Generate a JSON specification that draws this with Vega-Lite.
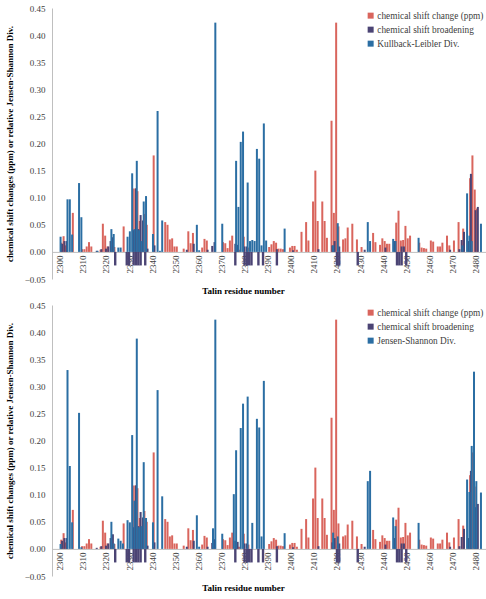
{
  "$schema": "https://vega.github.io/schema/vega-lite/v6.json",
  "padding": {"left": 5, "top": 4, "right": 4, "bottom": 2},
  "datasets": {
    "talin": [
      {"r": 2300, "k": 0.028, "j": 0.009},
      {"r": 2301, "c": 0.017, "b": 0.015},
      {"r": 2302, "c": 0.029, "b": 0.02},
      {"r": 2303, "c": 0.012, "b": 0.02, "k": 0.097, "j": 0.33},
      {"r": 2304, "k": 0.097, "j": 0.153},
      {"r": 2305, "k": 0.032, "j": 0.049},
      {"r": 2306, "c": 0.072},
      {"r": 2308, "k": 0.127, "j": 0.251},
      {"r": 2309, "k": 0.064, "j": 0.003},
      {"r": 2310, "c": 0.005},
      {"r": 2311, "c": 0.005},
      {"r": 2312, "c": 0.01},
      {"r": 2313, "c": 0.018},
      {"r": 2314, "c": 0.01},
      {"r": 2316, "b": 0.002, "k": 0.002},
      {"r": 2318, "c": 0.004, "b": 0.005},
      {"r": 2319, "c": 0.052},
      {"r": 2320, "c": 0.03, "b": 0.006},
      {"r": 2321, "c": 0.01, "b": 0.01},
      {"r": 2322, "b": 0.02, "k": 0.042, "j": 0.05},
      {"r": 2323, "b": 0.027, "k": 0.033, "j": 0.01},
      {"r": 2324, "c": 0.009, "n": -0.025},
      {"r": 2325, "k": 0.008, "j": 0.019},
      {"r": 2326, "k": 0.008, "j": 0.015},
      {"r": 2327, "j": 0.01},
      {"r": 2328, "c": 0.047},
      {"r": 2329, "k": 0.028, "j": 0.053, "n": -0.025},
      {"r": 2330, "k": 0.038, "j": 0.049, "n": -0.025},
      {"r": 2331, "k": 0.145, "j": 0.21},
      {"r": 2332, "c": 0.117, "b": 0.04, "k": 0.042, "j": 0.089, "n": -0.025},
      {"r": 2333, "c": 0.117, "b": 0.117, "k": 0.168, "j": 0.388, "n": -0.025},
      {"r": 2334, "c": 0.112, "b": 0.042, "k": 0.04, "j": 0.04, "n": -0.025},
      {"r": 2335, "c": 0.057, "b": 0.068, "k": 0.02, "j": 0.042, "n": -0.025},
      {"r": 2336, "b": 0.058, "k": 0.093, "j": 0.16},
      {"r": 2337, "c": 0.07, "k": 0.103, "j": 0.057, "n": -0.025},
      {"r": 2338, "c": 0.05, "b": 0.006},
      {"r": 2340, "k": 0.033, "j": 0.049},
      {"r": 2341, "c": 0.178, "b": 0.012},
      {"r": 2342, "k": 0.26, "j": 0.293},
      {"r": 2343, "k": 0.002},
      {"r": 2344, "k": 0.058, "j": 0.097},
      {"r": 2346, "c": 0.055},
      {"r": 2347, "c": 0.05},
      {"r": 2348, "c": 0.023},
      {"r": 2349, "c": 0.025},
      {"r": 2350, "c": 0.01},
      {"r": 2351, "c": 0.01},
      {"r": 2354, "c": 0.006},
      {"r": 2355, "b": 0.004},
      {"r": 2356, "c": 0.038},
      {"r": 2357, "c": 0.016},
      {"r": 2358, "c": 0.035, "b": 0.015},
      {"r": 2359, "k": 0.05, "j": 0.062},
      {"r": 2360, "k": 0.003, "j": 0.004},
      {"r": 2362, "c": 0.008},
      {"r": 2363, "c": 0.024},
      {"r": 2364, "c": 0.021, "b": 0.004},
      {"r": 2366, "b": 0.011, "j": 0.038},
      {"r": 2367, "b": 0.018, "k": 0.423, "j": 0.423},
      {"r": 2370, "k": 0.052, "j": 0.028},
      {"r": 2371, "c": 0.018},
      {"r": 2372, "c": 0.016},
      {"r": 2373, "c": 0.007},
      {"r": 2374, "c": 0.021},
      {"r": 2375, "c": 0.03, "j": 0.101},
      {"r": 2376, "b": 0.015, "k": 0.168, "j": 0.182, "n": -0.025},
      {"r": 2377, "c": 0.012, "b": 0.013, "k": 0.083},
      {"r": 2378, "c": 0.004, "k": 0.203, "j": 0.223},
      {"r": 2379, "k": 0.222, "j": 0.268},
      {"r": 2380, "c": 0.028, "b": 0.01, "n": -0.025},
      {"r": 2381, "b": 0.01, "k": 0.128, "j": 0.281, "n": -0.025},
      {"r": 2382, "c": 0.008, "k": 0.02, "n": -0.025},
      {"r": 2383, "k": 0.022, "j": 0.048, "n": -0.025},
      {"r": 2384, "k": 0.02},
      {"r": 2385, "k": 0.19, "j": 0.24},
      {"r": 2386, "k": 0.172, "j": 0.224, "n": -0.025},
      {"r": 2387, "k": 0.012, "j": 0.023},
      {"r": 2388, "k": 0.237, "j": 0.31, "n": -0.025},
      {"r": 2389, "k": 0.021},
      {"r": 2391, "c": 0.009},
      {"r": 2392, "c": 0.014},
      {"r": 2393, "c": 0.02},
      {"r": 2394, "c": 0.017, "b": 0.005, "n": -0.025},
      {"r": 2395, "c": 0.006},
      {"r": 2396, "c": 0.006},
      {"r": 2397, "c": 0.005, "k": 0.043, "j": 0.029},
      {"r": 2400, "c": 0.008},
      {"r": 2401, "c": 0.011, "b": 0.003},
      {"r": 2402, "c": 0.011},
      {"r": 2403, "c": 0.004},
      {"r": 2405, "c": 0.037},
      {"r": 2407, "c": 0.055},
      {"r": 2408, "c": 0.021},
      {"r": 2410, "c": 0.093},
      {"r": 2411, "c": 0.15},
      {"r": 2412, "c": 0.057, "b": 0.005},
      {"r": 2414, "c": 0.093},
      {"r": 2415, "c": 0.057},
      {"r": 2416, "c": 0.026},
      {"r": 2418, "c": 0.242, "b": 0.012, "k": 0.012, "j": 0.03},
      {"r": 2419, "c": 0.072, "b": 0.02},
      {"r": 2420, "c": 0.423, "k": 0.053, "j": 0.023, "n": -0.025},
      {"r": 2421, "c": 0.047, "b": 0.01, "n": -0.025},
      {"r": 2423, "c": 0.023},
      {"r": 2424, "c": 0.025},
      {"r": 2425, "c": 0.045},
      {"r": 2427, "c": 0.052},
      {"r": 2429, "c": 0.023, "n": -0.025},
      {"r": 2431, "c": 0.009},
      {"r": 2432, "b": 0.004},
      {"r": 2433, "k": 0.055, "j": 0.125},
      {"r": 2434, "k": 0.02, "j": 0.144},
      {"r": 2436, "c": 0.035},
      {"r": 2437, "c": 0.018},
      {"r": 2439, "c": 0.013},
      {"r": 2440, "c": 0.025},
      {"r": 2441, "c": 0.02, "b": 0.008},
      {"r": 2442, "c": 0.015},
      {"r": 2443, "c": 0.015},
      {"r": 2444, "k": 0.024, "j": 0.058},
      {"r": 2445, "b": 0.02, "k": 0.02, "j": 0.042},
      {"r": 2446, "c": 0.054, "n": -0.025},
      {"r": 2447, "c": 0.076, "n": -0.025},
      {"r": 2448, "c": 0.021, "b": 0.01, "n": -0.025},
      {"r": 2449, "c": 0.022, "b": 0.01},
      {"r": 2450, "c": 0.048, "n": -0.025},
      {"r": 2451, "c": 0.025},
      {"r": 2452, "c": 0.03},
      {"r": 2455, "k": 0.026, "j": 0.048},
      {"r": 2456, "c": 0.017},
      {"r": 2457, "c": 0.008},
      {"r": 2458, "c": 0.007},
      {"r": 2459, "c": 0.006},
      {"r": 2461, "c": 0.021},
      {"r": 2462, "c": 0.019},
      {"r": 2464, "c": 0.01},
      {"r": 2465, "c": 0.01},
      {"r": 2466, "c": 0.017},
      {"r": 2468, "c": 0.03},
      {"r": 2469, "c": 0.012, "b": 0.004},
      {"r": 2471, "c": 0.021},
      {"r": 2473, "c": 0.055, "b": 0.005},
      {"r": 2474, "b": 0.022, "k": 0.012},
      {"r": 2475, "c": 0.043, "b": 0.037},
      {"r": 2476, "k": 0.108, "j": 0.128},
      {"r": 2477, "b": 0.02, "k": 0.03, "j": 0.105},
      {"r": 2478, "c": 0.136, "b": 0.144, "k": 0.02, "j": 0.19},
      {"r": 2479, "c": 0.178, "j": 0.327},
      {"r": 2480, "c": 0.115, "b": 0.077, "j": 0.125},
      {"r": 2481, "c": 0.08, "b": 0.083},
      {"r": 2482, "k": 0.052, "j": 0.104}
    ]
  },
  "data": {"name": "talin"},
  "spacing": 5,
  "resolve": {"scale": {"color": "independent"}, "legend": {"color": "independent"}},
  "vconcat": [
    {
      "width": 435,
      "height": 271,
      "encoding": {
        "x": {
          "field": "r", "type": "quantitative",
          "scale": {"domain": [2298.8, 2482.8], "nice": false, "zero": false},
          "axis": {
            "title": "Talin residue number",
            "values": [2300, 2310, 2320, 2330, 2340, 2350, 2360, 2370, 2380, 2390, 2400, 2410, 2420, 2430, 2440, 2450, 2460, 2470, 2480],
            "tickCount": 30,
            "format": "d", "labelAngle": 270, "offset": -27.1, "labelPadding": 3,
            "titlePadding": 14, "titleAnchor": "middle", "titleX": 191
          }
        }
      },
      "layer": [
        {
          "mark": {"type": "bar", "width": 2, "xOffset": -0.8},
          "encoding": {
            "y": {"field": "c", "type": "quantitative", "scale": {"domain": [-0.05, 0.45], "nice": false},
                  "axis": {"values": [-0.05, 0, 0.05, 0.1, 0.15, 0.2, 0.25, 0.3, 0.35, 0.4, 0.45], "tickCount": 20, "format": ".2f"},
                  "title": "chemical shift changes (ppm) or relative Jensen-Shannon Div."},
            "color": {"datum": "chemical shift change (ppm)", "type": "nominal",
                      "scale": {"domain": ["chemical shift change (ppm)", "chemical shift broadening", "Kullback-Leibler Div."], "range": ["#d9655d", "#4b4474", "#2b6ea3"]},
                      "legend": {"orient": "top-right", "offset": 3, "padding": 0, "title": null}}
          }
        },
        {
          "mark": {"type": "bar", "width": 2, "xOffset": 0},
          "encoding": {
            "y": {"field": "b", "type": "quantitative", "title": "chemical shift changes (ppm) or relative Jensen-Shannon Div."},
            "color": {"datum": "chemical shift broadening", "type": "nominal"}
          }
        },
        {
          "mark": {"type": "bar", "width": 2.4, "xOffset": 0, "color": "#4b4474"},
          "encoding": {
            "y": {"field": "n", "type": "quantitative", "title": "chemical shift changes (ppm) or relative Jensen-Shannon Div."}
          }
        },
        {
          "mark": {"type": "bar", "width": 2, "xOffset": 0.8},
          "encoding": {
            "y": {"field": "k", "type": "quantitative", "title": "chemical shift changes (ppm) or relative Jensen-Shannon Div."},
            "color": {"datum": "Kullback-Leibler Div.", "type": "nominal"}
          }
        }
      ]
    },
    {
      "width": 435,
      "height": 271,
      "encoding": {
        "x": {
          "field": "r", "type": "quantitative",
          "scale": {"domain": [2298.8, 2482.8], "nice": false, "zero": false},
          "axis": {
            "title": "Talin residue number",
            "values": [2300, 2310, 2320, 2330, 2340, 2350, 2360, 2370, 2380, 2390, 2400, 2410, 2420, 2430, 2440, 2450, 2460, 2470, 2480],
            "tickCount": 30,
            "format": "d", "labelAngle": 270, "offset": -27.1, "labelPadding": 3,
            "titlePadding": 14, "titleAnchor": "middle", "titleX": 191
          }
        }
      },
      "layer": [
        {
          "mark": {"type": "bar", "width": 2, "xOffset": -0.8},
          "encoding": {
            "y": {"field": "c", "type": "quantitative", "scale": {"domain": [-0.05, 0.45], "nice": false},
                  "axis": {"values": [-0.05, 0, 0.05, 0.1, 0.15, 0.2, 0.25, 0.3, 0.35, 0.4, 0.45], "tickCount": 20, "format": ".2f"},
                  "title": "chemical shift changes (ppm) or relative Jensen-Shannon Div."},
            "color": {"datum": "chemical shift change (ppm)", "type": "nominal",
                      "scale": {"domain": ["chemical shift change (ppm)", "chemical shift broadening", "Jensen-Shannon Div."], "range": ["#d9655d", "#4b4474", "#2b6ea3"]},
                      "legend": {"orient": "top-right", "offset": 3, "padding": 0, "title": null}}
          }
        },
        {
          "mark": {"type": "bar", "width": 2, "xOffset": 0},
          "encoding": {
            "y": {"field": "b", "type": "quantitative", "title": "chemical shift changes (ppm) or relative Jensen-Shannon Div."},
            "color": {"datum": "chemical shift broadening", "type": "nominal"}
          }
        },
        {
          "mark": {"type": "bar", "width": 2.4, "xOffset": 0, "color": "#4b4474"},
          "encoding": {
            "y": {"field": "n", "type": "quantitative", "title": "chemical shift changes (ppm) or relative Jensen-Shannon Div."}
          }
        },
        {
          "mark": {"type": "bar", "width": 2, "xOffset": 0.8},
          "encoding": {
            "y": {"field": "j", "type": "quantitative", "title": "chemical shift changes (ppm) or relative Jensen-Shannon Div."},
            "color": {"datum": "Jensen-Shannon Div.", "type": "nominal"}
          }
        }
      ]
    }
  ],
  "config": {
    "font": "Liberation Serif, Times New Roman, serif",
    "view": {"stroke": null},
    "axis": {
      "grid": false, "ticks": false, "domainColor": "#bfbfbf",
      "labelColor": "#404040", "labelFont": "Liberation Serif, Times New Roman, serif", "labelFontSize": 9,
      "titleFont": "Liberation Serif, Times New Roman, serif", "titleFontSize": 9, "titleFontWeight": "bold", "titleColor": "#000000"
    },
    "axisY": {"labelPadding": 7, "titlePadding": 10, "labelOverlap": false},
    "legend": {
      "symbolType": "square", "symbolSize": 36, "symbolStrokeWidth": 0,
      "labelFont": "Liberation Serif, Times New Roman, serif", "labelFontSize": 9.3, "labelColor": "#404040",
      "rowPadding": 4, "labelOffset": 2
    }
  }
}
